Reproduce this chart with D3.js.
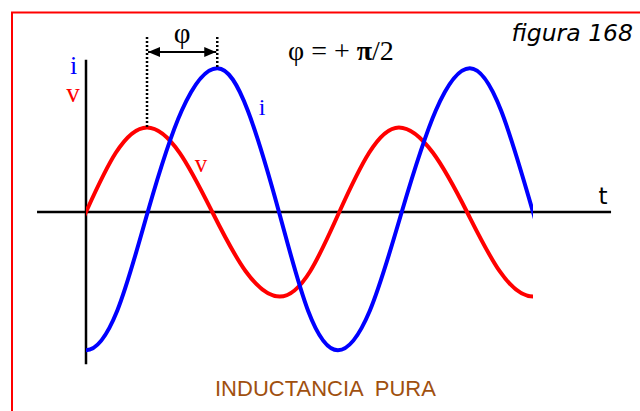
<!DOCTYPE html>
<html>
<head>
<meta charset="utf-8">
<script src="https://cdn.jsdelivr.net/npm/d3@7"></script>
<style>
  html, body { margin: 0; padding: 0; background: #fff; }
  svg { display: block; }
  .serif { font-family: "Liberation Serif", "DejaVu Serif", serif; }
</style>
</head>
<body>
<svg id="chart" width="640" height="411"></svg>
<script>
/*** DATA (phase in degrees) ***/

// voltage v (red)
let tV   = [0, 42, 86, 132, 178, 225, 273, 316, 357, 399, 441, 489, 537, 583, 630];
let vVal = [0, 0.42, 0.60, 0.42, 0, -0.42, -0.60, -0.42, 0, 0.42, 0.60, 0.42, 0, -0.42, -0.60];

// current i (blue)
let tI   = [0, 44, 87, 135, 185, 228, 272, 313, 355, 400, 445, 493, 541, 585, 630];
let iVal = [-0.98, -0.70, 0, 0.72, 1.02, 0.72, 0, -0.70, -0.98, -0.70, 0, 0.72, 1.02, 0.72, 0];

// axis extents in data units
let tAxis = [-69, 740];
let yAxis = [-1.08, 1.08];

/*** SETUP ***/

let svg = d3.select("#chart");

let x = d3.scaleLinear().domain([0, 630]).range([86, 533]),
    y = d3.scaleLinear().domain([-1, 1]).range([353, 71]);

// mirror a few points past each end so the spline keeps its shape there
// (even mirror at a peak, odd mirror at a zero), the extra bit is clipped off
function extend(ts, vs, k = 3) {
    let n = ts.length, t0 = ts[0], t1 = ts[n - 1], pts = [];
    for (let j = k; j >= 1; j--)
        pts.push([2 * t0 - ts[j], vs[0] === 0 ? -vs[j] : vs[j]]);
    for (let j = 0; j < n; j++) pts.push([ts[j], vs[j]]);
    for (let j = 1; j <= k; j++)
        pts.push([2 * t1 - ts[n - 1 - j], vs[n - 1] === 0 ? -vs[n - 1 - j] : vs[n - 1 - j]]);
    return pts;
}

// red frame (cut off at right and bottom)
svg.append("rect")
    .attr("x", 12).attr("y", 12.5)
    .attr("width", 700).attr("height", 500)
    .attr("fill", "none").attr("stroke", "#ff0000").attr("stroke-width", 2);

let defs = svg.append("defs");

defs.append("clipPath").attr("id", "plot-clip")
    .append("rect")
    .attr("x", x(0)).attr("y", 0)
    .attr("width", x(630) - x(0)).attr("height", 411);

// arrow marker
defs.append("marker")
    .attr("id", "head")
    .attr("viewBox", "0 0 12 10")
    .attr("refX", 12).attr("refY", 5)
    .attr("markerWidth", 12).attr("markerHeight", 10)
    .attr("markerUnits", "userSpaceOnUse")
    .attr("orient", "auto-start-reverse")
    .append("path").attr("d", "M0,0 L12,5 L0,10 Z").attr("fill", "#000");

/*** AXES ***/

svg.append("line")
    .attr("x1", x(tAxis[0])).attr("x2", x(tAxis[1]))
    .attr("y1", y(0)).attr("y2", y(0))
    .attr("stroke", "#000").attr("stroke-width", 2.5);

svg.append("line")
    .attr("x1", x(0)).attr("x2", x(0))
    .attr("y1", y(yAxis[0])).attr("y2", y(yAxis[1]))
    .attr("stroke", "#000").attr("stroke-width", 2.5);

/*** CURVES ***/

let line = d3.line()
    .x((d) => x(d[0]))
    .y((d) => y(d[1]))
    .curve(d3.curveNatural);

let curves = svg.append("g").attr("clip-path", "url(#plot-clip)");

curves.append("path")
    .datum(extend(tV, vVal))
    .attr("d", line)
    .attr("fill", "none").attr("stroke", "#ff0000").attr("stroke-width", 4);

curves.append("path")
    .datum(extend(tI, iVal))
    .attr("d", line)
    .attr("fill", "none").attr("stroke", "#0000ff").attr("stroke-width", 4);

/*** PHASE ANNOTATION ***/

let vPeak = d3.maxIndex(vVal),
    iPeak = d3.maxIndex(iVal);

[[tV[vPeak], vVal[vPeak]], [tI[iPeak], iVal[iPeak]]].forEach((p) => {
    svg.append("line")
        .attr("x1", x(p[0])).attr("x2", x(p[0]))
        .attr("y1", 37).attr("y2", y(p[1]))
        .attr("stroke", "#000").attr("stroke-width", 2.5)
        .attr("stroke-dasharray", "2,2");
});

svg.append("line")
    .attr("x1", x(tV[vPeak]) + 1).attr("x2", x(tI[iPeak]) - 1)
    .attr("y1", 52).attr("y2", 52)
    .attr("stroke", "#000").attr("stroke-width", 2)
    .attr("marker-start", "url(#head)")
    .attr("marker-end", "url(#head)");

svg.append("text").classed("serif", true)
    .attr("x", (x(tV[vPeak]) + x(tI[iPeak])) / 2).attr("y", 43)
    .attr("text-anchor", "middle").attr("font-size", 29)
    .text("φ");

let eq = svg.append("text").classed("serif", true)
    .attr("x", 288).attr("y", 60).attr("font-size", 28);
eq.append("tspan").text("φ = + ");
eq.append("tspan").attr("font-weight", "bold").text("π");
eq.append("tspan").text("/2");

/*** LABELS ***/

svg.append("text")
    .attr("x", 633).attr("y", 41).attr("text-anchor", "end")
    .attr("font-family", "DejaVu Sans, sans-serif").attr("font-style", "italic")
    .attr("font-size", 23.5)
    .text("figura 168");

svg.append("text")
    .attr("x", 603).attr("y", 204).attr("text-anchor", "middle")
    .attr("font-family", "DejaVu Sans, sans-serif").attr("font-size", 23)
    .text("t");

svg.append("text").classed("serif", true)
    .attr("x", 73.5).attr("y", 74).attr("text-anchor", "middle")
    .attr("font-size", 26).attr("fill", "#0000ff").text("i");
svg.append("text").classed("serif", true)
    .attr("x", 73).attr("y", 102).attr("text-anchor", "middle")
    .attr("font-size", 27).attr("fill", "#ff0000").text("v");

svg.append("text").classed("serif", true)
    .attr("x", 262).attr("y", 115).attr("text-anchor", "middle")
    .attr("font-size", 24).attr("fill", "#0000ff").text("i");
svg.append("text").classed("serif", true)
    .attr("x", 201).attr("y", 172).attr("text-anchor", "middle")
    .attr("font-size", 25).attr("fill", "#ff0000").text("v");

svg.append("text")
    .attr("x", 215).attr("y", 396)
    .attr("font-family", "Liberation Sans, Arial, sans-serif").attr("font-size", 22)
    .attr("fill", "#a0500f").attr("xml:space", "preserve")
    .style("white-space", "pre")
    .text("INDUCTANCIA  PURA");
</script>
</body>
</html>
